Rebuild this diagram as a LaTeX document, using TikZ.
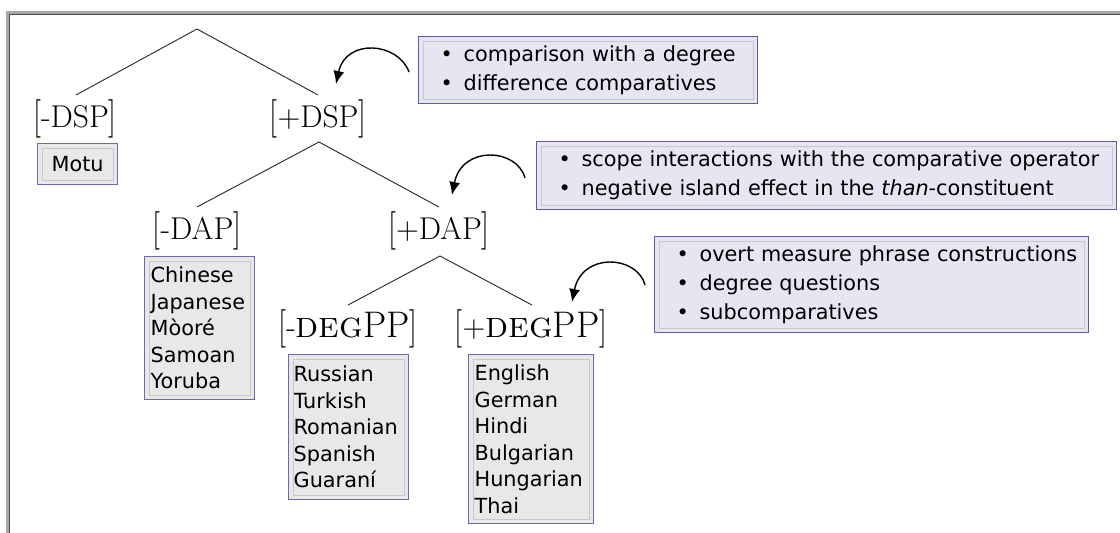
\documentclass[tikz,border=0pt]{standalone}
\usepackage{graphicx}
\usepackage{fontspec}
\newfontfamily\dejavu{DejaVu Sans}
\usetikzlibrary{arrows.meta}
\definecolor{langfill}{HTML}{E8E8E8}
\definecolor{langborder}{HTML}{6A6AB0}
\definecolor{bulfill}{HTML}{E6E6F2}
\definecolor{bulborder}{HTML}{5A5AA8}
\definecolor{innerb}{HTML}{C8C8C8}
\definecolor{framegray}{HTML}{A8A8A8}
\newcommand\bl[1]{\makebox[0pt][l]{\makebox[23pt][l]{•}#1}}
\newcommand\lbr{\raisebox{-1.5pt}{\scalebox{1}[1.22]{[}}}
\newcommand\rbr{\raisebox{-1.5pt}{\scalebox{1}[1.22]{]}}}
\newcommand\degpp{{\fontsize{37}{42}\selectfont\textsc{deg}PP}}
\tikzset{
  treelab/.style={font=\fontsize{31.5}{38}\selectfont, inner sep=0pt, anchor=base},
  treeline/.style={draw=black!85, line width=0.9pt},
  langbox/.style={draw=langborder, fill=langfill, line width=1.3pt, anchor=north west,
    font=\dejavu\fontsize{20.8}{26.5}\selectfont, align=left, inner ysep=0pt},
  bulbox/.style={draw=bulborder, fill=bulfill, line width=1.3pt, anchor=north west,
    font=\dejavu\fontsize{20.8}{29}\selectfont, align=left, inner xsep=22pt, inner ysep=0pt},
  innerframe/.style={draw=innerb, line width=0.9pt},
  curvearrow/.style={draw=black, line width=1.4pt, -{Latex[length=13pt,width=11pt]}}
}
\begin{document}
\begin{tikzpicture}[x=1pt,y=-1pt]
\useasboundingbox (0,0) rectangle (1120,533);
% frame
\draw[framegray, line width=3pt] (7.5,533) -- (7.5,12.5) -- (1120,12.5);
\draw[black!70, line width=0.8pt] (9.5,533) -- (9.5,14.5) -- (1120,14.5);

% tree labels
\node[treelab] (dspm) at (75,127) {\lbr-DSP\rbr};
\node[treelab] (dspp) at (318,127) {\lbr+DSP\rbr};
\node[treelab] (dapm) at (197,239) {\lbr-DAP\rbr};
\node[treelab] (dapp) at (439,239) {\lbr+DAP\rbr};
\node[treelab] (degm) at (348,337) {\lbr-\degpp\rbr};
\node[treelab] (degp) at (531,337) {\lbr+\degpp\rbr};

% tree connection points
\coordinate (root) at (197,29);
\coordinate (dspmtop) at (76,95);
\coordinate (dspptop) at (318,95);
\coordinate (dsppbot) at (319,142);
\coordinate (dapmtop) at (197,207);
\coordinate (dapptop) at (439,207);
\coordinate (dappbot) at (440,256);
\coordinate (degmtop) at (348,305);
\coordinate (degptop) at (532,305);

\draw[treeline] (dspmtop) -- (root) -- (dspptop);
\draw[treeline] (dapmtop) -- (dsppbot) -- (dapptop);
\draw[treeline] (degmtop) -- (dappbot) -- (degptop);

% language boxes
\node[langbox, minimum width=80pt, minimum height=41pt, align=center] (motu) at (37,143) {Motu};
\node[langbox, text width=98pt, inner xsep=6pt, minimum height=143pt] (langdap) at (144,256)
  {Chinese\\Japanese\\Mòoré\\Samoan\\Yoruba};
\node[langbox, text width=110pt, inner xsep=5pt, minimum height=145pt] (langdegm) at (288,354)
  {Russian\\Turkish\\Romanian\\Spanish\\Guaraní};
\node[langbox, text width=113pt, inner xsep=6pt, minimum height=169pt] (langdegp) at (468,354)
  {English\\German\\Hindi\\Bulgarian\\Hungarian\\Thai};

% property boxes
\node[bulbox, text width=295pt, minimum height=67pt] (prop1) at (418,36)
  {\bl{comparison with a degree}\\\bl{difference comparatives}};
\node[bulbox, text width=536pt, minimum height=68pt] (prop2) at (536,141)
  {\bl{scope interactions with the comparative operator}\\\bl{negative island effect in the \textit{than}-constituent}};
\node[bulbox, text width=390pt, minimum height=96pt] (prop3) at (654,236)
  {\bl{overt measure phrase constructions}\\\bl{degree questions}\\\bl{subcomparatives}};

% inner frames
\foreach \n in {motu,langdap,langdegm,langdegp,prop1,prop2,prop3}
  \draw[innerframe] ([shift={(5pt,-5pt)}]\n.north west) rectangle ([shift={(-5pt,5pt)}]\n.south east);

% curved arrows
\coordinate (a1s) at (409,72);
\coordinate (a1t) at (336,84);
\coordinate (a2s) at (525,178);
\coordinate (a2t) at (452,195);
\coordinate (a3s) at (645,285);
\coordinate (a3t) at (572,302);
\draw[curvearrow] (a1s) .. controls (398,42) and (346,38) .. (a1t);
\draw[curvearrow] (a2s) .. controls (517,148) and (462,145) .. (a2t);
\draw[curvearrow] (a3s) .. controls (637,255) and (582,252) .. (a3t);
\end{tikzpicture}
\end{document}
